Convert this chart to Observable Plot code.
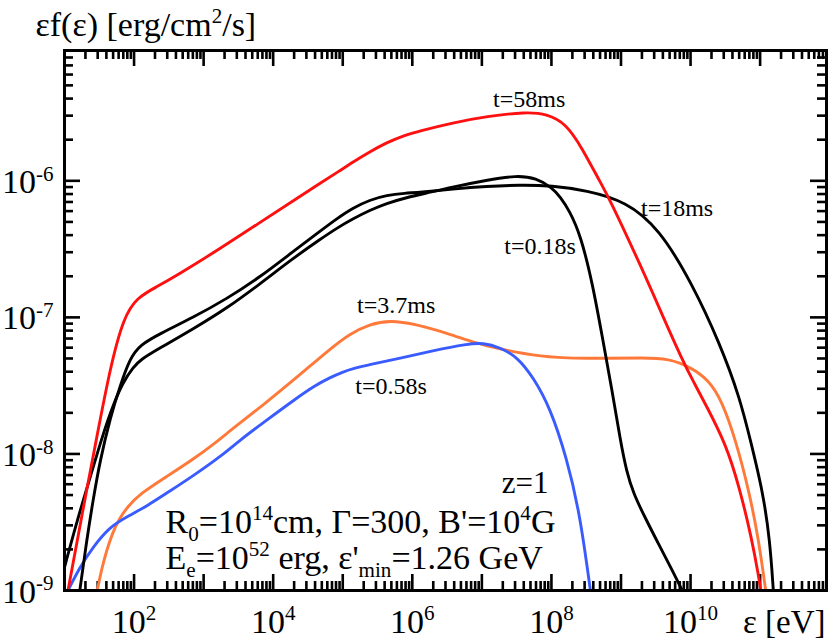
<!DOCTYPE html>
<html><head><meta charset="utf-8">
<script src="https://cdn.jsdelivr.net/npm/d3@7"></script>
<script src="https://cdn.jsdelivr.net/npm/@observablehq/plot@0.6"></script>
<style>html,body{margin:0;padding:0;background:#fff;} svg{display:block;}</style>
</head><body><div id="chart"></div>
<script>
// Each series: pairs of [log10(ε / eV), log10(εf(ε) / erg cm^-2 s^-1)]
const t3_7ms = [[1.47,-9.0],[1.54,-8.83],[1.61,-8.70],[1.69,-8.58],[1.78,-8.48],[1.90,-8.39],[2.09,-8.29],[2.47,-8.165],[2.85,-8.04],[3.19,-7.91],[3.38,-7.83],[3.86,-7.64],[4.34,-7.44],[4.82,-7.23],[5.10,-7.12],[5.39,-7.05],[5.67,-7.02],[6.06,-7.05],[6.53,-7.12],[6.92,-7.19],[7.25,-7.23],[7.73,-7.28],[8.21,-7.30],[8.83,-7.30],[9.30,-7.296],[9.69,-7.30],[10.02,-7.37],[10.26,-7.46],[10.45,-7.61],[10.65,-7.90],[10.84,-8.27],[10.98,-8.63],[11.08,-9.0]];
const t0_58s = [[1.05,-9.0],[1.22,-8.83],[1.41,-8.68],[1.66,-8.53],[1.90,-8.46],[2.19,-8.38],[2.52,-8.27],[2.85,-8.16],[3.24,-8.02],[3.52,-7.90],[3.86,-7.77],[4.34,-7.59],[4.60,-7.50],[4.82,-7.44],[5.00,-7.40],[5.15,-7.375],[5.39,-7.345],[5.82,-7.30],[6.29,-7.245],[6.79,-7.195],[7.02,-7.186],[7.26,-7.22],[7.51,-7.29],[7.74,-7.44],[7.98,-7.66],[8.22,-8.03],[8.41,-8.44],[8.56,-9.0]];
const t18ms = [[1.22,-9.0],[1.32,-8.63],[1.41,-8.34],[1.51,-8.05],[1.66,-7.73],[1.80,-7.50],[1.94,-7.30],[2.09,-7.20],[2.37,-7.12],[2.85,-7.00],[3.33,-6.865],[3.81,-6.705],[4.28,-6.52],[4.67,-6.37],[4.92,-6.275],[5.14,-6.20],[5.39,-6.14],[5.63,-6.105],[5.90,-6.09],[6.10,-6.085],[6.58,-6.06],[7.07,-6.04],[7.54,-6.03],[8.01,-6.035],[8.50,-6.07],[9.07,-6.15],[9.55,-6.35],[10.02,-6.75],[10.42,-7.19],[10.71,-7.59],[10.87,-7.92],[11.04,-8.28],[11.14,-8.63],[11.19,-9.0]];
const t0_18s = [[1.0,-8.83],[1.18,-8.49],[1.37,-8.17],[1.55,-7.86],[1.70,-7.64],[1.84,-7.475],[1.99,-7.365],[2.09,-7.31],[2.37,-7.225],[2.85,-7.085],[3.33,-6.935],[3.81,-6.755],[4.28,-6.57],[4.67,-6.43],[4.92,-6.345],[5.14,-6.28],[5.39,-6.215],[5.63,-6.165],[5.90,-6.125],[6.20,-6.09],[6.58,-6.045],[7.07,-5.995],[7.50,-5.96],[7.78,-5.98],[8.01,-6.05],[8.13,-6.12],[8.26,-6.22],[8.42,-6.40],[8.59,-6.75],[8.73,-7.14],[8.87,-7.53],[8.99,-7.90],[9.08,-8.13],[9.18,-8.29],[9.33,-8.45],[9.55,-8.67],[9.73,-8.845],[9.88,-9.0]];
const t58ms = [[1.05,-9.0],[1.25,-8.45],[1.47,-7.86],[1.66,-7.36],[1.85,-7.00],[2.04,-6.855],[2.33,-6.775],[2.62,-6.69],[3.09,-6.545],[3.81,-6.305],[4.38,-6.115],[4.67,-6.02],[4.96,-5.925],[5.14,-5.865],[5.38,-5.79],[5.63,-5.72],[5.90,-5.665],[6.10,-5.635],[6.58,-5.575],[7.07,-5.527],[7.64,-5.496],[7.93,-5.51],[8.21,-5.58],[8.44,-5.76],[8.69,-6.0],[8.83,-6.125],[9.30,-6.64],[9.60,-6.99],[9.88,-7.31],[10.05,-7.48],[10.22,-7.64],[10.51,-7.93],[10.70,-8.24],[10.88,-8.62],[10.98,-8.9],[11.01,-9.0]];

const seriesNames  = ["t=3.7ms", "t=0.58s", "t=18ms", "t=0.18s", "t=58ms"];
const seriesValues = [t3_7ms, t0_58s, t18ms, t0_18s, t58ms];
const seriesColors = ["#ff7a3a", "#3a5cff", "#000000", "#000000", "#ff1010"];

// curve annotations (text, energy, flux at baseline)
const curveLabelText = ["t=58ms", "t=18ms", "t=0.18s", "t=3.7ms", "t=0.58s"];
const curveLabelE    = [4.78e7, 6.4e9, 6.87e7, 5.85e5, 4.95e5];
const curveLabelF    = [3.49e-6, 5.56e-7, 2.93e-7, 1.07e-7, 2.77e-8];

const xTickValues = [1e2, 1e4, 1e6, 1e8, 1e10];
const xTickLabels = ["10^{2}", "10^{4}", "10^{6}", "10^{8}", "10^{10}"];
const yTickValues = [1e-9, 1e-8, 1e-7, 1e-6];
const yTickLabels = ["10^{-9}", "10^{-8}", "10^{-7}", "10^{-6}"];

const titleText = ["εf(ε) [erg/cm^{2}/s]"];
const xLabelText = ["ε [eV]"];
const paramLine1 = ["R_{0}=10^{14}cm, Γ=300, B'=10^{4}G"];
const paramLine2 = ["E_{e}=10^{52} erg, ε'_{min}=1.26 GeV"];
const redshiftText = ["z=1"];

const xDomain = [10, 9e11];
const yDomain = [1e-9, 9e-6];

// rows for the line mark
const rows = [];
seriesValues.forEach((pts, k) => pts.forEach(([le, lf]) => rows.push({s: seriesNames[k] + "#" + k, k, e: Math.pow(10, le), f: Math.pow(10, lf)})));

// tick positions (decades and their 2..9 multiples) within the domain
const xMajor = [], xMinor = [], yMajor = [], yMinor = [];
for (let p = 1; p <= 11; p++) {
  if (p > 1) xMajor.push(Math.pow(10, p));
  for (let m = 2; m <= 9; m++) { const v = m * Math.pow(10, p); if (v < xDomain[1] * 0.999) xMinor.push(v); }
}
for (let p = -9; p <= -6; p++) {
  if (p > -9) yMajor.push(Math.pow(10, p));
  for (let m = 2; m <= 9; m++) { const v = m * Math.pow(10, p); if (v < yDomain[1] * 0.999) yMinor.push(v); }
}

const W = 831, H = 643, mL = 64, mR = 5, mT = 50, mB = 53;
const fw = W - mL - mR, fh = H - mT - mB;
const majLen = 16, minLen = 9, tickW = 2.6;
const font = "'Liberation Serif', 'Times New Roman', Times, serif";

const plot = Plot.plot({
  width: W, height: H,
  marginLeft: mL, marginRight: mR, marginTop: mT, marginBottom: mB,
  style: {fontFamily: font, background: "#fff", color: "#000", overflow: "visible"},
  x: {type: "log", domain: xDomain, axis: null},
  y: {type: "log", domain: yDomain, axis: null},
  marks: [
    // inward ticks on all four sides
    Plot.tickX(xMajor, {x: d => d, insetTop: fh - majLen, stroke: "#000", strokeWidth: tickW}),
    Plot.tickX(xMinor, {x: d => d, insetTop: fh - minLen, stroke: "#000", strokeWidth: tickW}),
    Plot.tickX(xMajor, {x: d => d, insetBottom: fh - majLen, stroke: "#000", strokeWidth: tickW}),
    Plot.tickX(xMinor, {x: d => d, insetBottom: fh - minLen, stroke: "#000", strokeWidth: tickW}),
    Plot.tickY(yMajor, {y: d => d, insetRight: fw - majLen, stroke: "#000", strokeWidth: tickW}),
    Plot.tickY(yMinor, {y: d => d, insetRight: fw - minLen, stroke: "#000", strokeWidth: tickW}),
    Plot.tickY(yMajor, {y: d => d, insetLeft: fw - majLen, stroke: "#000", strokeWidth: tickW}),
    Plot.tickY(yMinor, {y: d => d, insetLeft: fw - minLen, stroke: "#000", strokeWidth: tickW}),
    // spectra
    Plot.line(rows, {x: "e", y: "f", z: "s", stroke: d => seriesColors[d.k], strokeWidth: 2.9, curve: "basis", clip: true}),
    Plot.frame({stroke: "#000", strokeWidth: 3}),
    // tick labels
    Plot.text(xTickValues, {x: d => d, frameAnchor: "bottom", text: (d, i) => xTickLabels[i], dy: 42, lineAnchor: "bottom", fontSize: 34, fill: "#000"}),
    Plot.text(yTickValues, {y: d => d, frameAnchor: "left", textAnchor: "end", text: (d, i) => yTickLabels[i], dx: -11, dy: 12, lineAnchor: "bottom", fontSize: 34, fill: "#000"}),
    // titles
    Plot.text(titleText, {frameAnchor: "top-left", textAnchor: "start", text: d => d, dx: -29, dy: -15, lineAnchor: "bottom", fontSize: 34, fill: "#000"}),
    Plot.text(xLabelText, {frameAnchor: "bottom-right", textAnchor: "end", text: d => d, dx: -1, dy: 42, lineAnchor: "bottom", fontSize: 33, fill: "#000"}),
    // curve annotations
    Plot.text(curveLabelText, {x: (d, i) => curveLabelE[i], y: (d, i) => curveLabelF[i], text: d => d, textAnchor: "middle", lineAnchor: "bottom", fontSize: 24, fill: "#000"}),
    // parameters
    Plot.text(redshiftText, {frameAnchor: "bottom-left", textAnchor: "end", text: d => d, dx: 484, dy: -98, lineAnchor: "bottom", fontSize: 31, fill: "#000"}),
    Plot.text(paramLine1, {frameAnchor: "bottom-left", textAnchor: "start", text: d => d, dx: 101, dy: -58, lineAnchor: "bottom", fontSize: 34, fill: "#000"}),
    Plot.text(paramLine2, {frameAnchor: "bottom-left", textAnchor: "start", text: d => d, dx: 101, dy: -22, lineAnchor: "bottom", fontSize: 34, fill: "#000"})
  ]
});
document.getElementById("chart").appendChild(plot);

// turn ^{..} and _{..} into real superscript / subscript tspans
function richText(root) {
  root.querySelectorAll("text").forEach(t => {
    const s = t.textContent;
    if (!/[\^_]\{/.test(s)) return;
    const fs = parseFloat(getComputedStyle(t).fontSize) || 16;
    while (t.firstChild) t.removeChild(t.firstChild);
    const re = /([\^_])\{([^}]*)\}|([^\^_]+)/g;
    let m, shift = 0;
    while ((m = re.exec(s))) {
      const ts = document.createElementNS("http://www.w3.org/2000/svg", "tspan");
      let target = 0, size = null, txt;
      if (m[1]) { target = m[1] === "^" ? -0.36 * fs : 0.24 * fs; size = 0.62 * fs; txt = m[2]; }
      else { txt = m[3]; }
      const dy = target - shift;
      if (dy) ts.setAttribute("dy", dy.toFixed(2));
      if (size) ts.setAttribute("font-size", size.toFixed(2));
      ts.textContent = txt;
      t.appendChild(ts);
      shift = target;
    }
  });
}
richText(plot);
</script>
</body></html>
